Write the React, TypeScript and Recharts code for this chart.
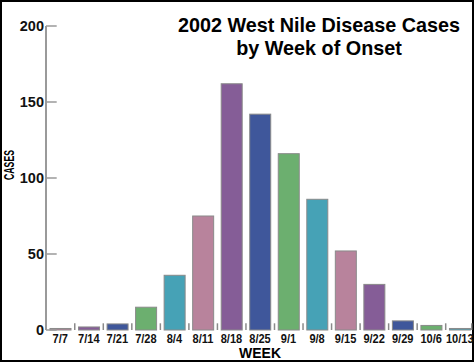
import React from 'react';
import { BarChart, Bar, XAxis, YAxis, Cell, Label } from 'recharts';

const weeks = ['7/7', '7/14', '7/21', '7/28', '8/4', '8/11', '8/18', '8/25', '9/1', '9/8', '9/15', '9/22', '9/29', '10/6', '10/13'];
const cases = [1, 2, 4, 15, 36, 75, 162, 142, 116, 86, 52, 30, 6, 3, 1];
const yTicks = [0, 50, 100, 150, 200];
const titleLines = ['2002 West Nile Disease Cases', 'by Week of Onset'];

const palette = ['#b8839c', '#855d97', '#3f579b', '#6caf6f', '#46a2b6'];
const FONT = '"Liberation Sans", Arial, Helvetica, sans-serif';
const CHART_W = 474;
const CHART_H = 362;
const Y_AXIS_W = 46;
const BAND = (CHART_W - Y_AXIS_W) / weeks.length;
const TICK_LEN = 6.7;

const data = weeks.map((w, i) => ({ week: w, cases: cases[i] }));

const YTick = (props: any) => {
  const { x, y, payload } = props;
  return (
    <g>
      <line x1={x + 2} x2={x + 12.7} y1={y} y2={y} stroke="#9a9a9a" strokeWidth={1.5} />
      <text x={x} y={y} dy="0.36em" textAnchor="end" fontFamily={FONT} fontWeight="bold" fontSize={14.5} fill="#111">
        {payload.value}
      </text>
    </g>
  );
};

const XTick = (props: any) => {
  const { x, y, payload } = props;
  return (
    <g transform={`translate(${x},${y}) scale(0.85,1)`}>
      <text x={0} y={0} dy="0.72em" textAnchor="middle" fontFamily={FONT} fontWeight="bold" fontSize={13} fill="#111">
        {payload.value}
      </text>
    </g>
  );
};

const BarWithTicks = (props: any) => {
  const { x, y, width, height, fill, payload } = props;
  const bx = Number(x);
  const by = Number(y);
  const bw = Number(width);
  const bh = Number(height);
  const idx = payload ? weeks.indexOf(String(payload.week)) : -1;
  const bottom = by + bh;
  const pad = (BAND - bw) / 2;
  const left = bx - pad;
  const right = bx + bw + pad - 2.5;
  return (
    <g>
      <rect x={bx} y={by} width={bw} height={bh} fill={fill} stroke="#8a8a8a" strokeWidth={1} />
      {idx > 0 ? <line x1={left} x2={left} y1={bottom} y2={bottom - TICK_LEN} stroke="#8a8a8a" strokeWidth={1.5} /> : null}
      {idx === weeks.length - 1 ? <line x1={right} x2={right} y1={bottom} y2={bottom - TICK_LEN} stroke="#8a8a8a" strokeWidth={1.5} /> : null}
    </g>
  );
};

const XLabel = (props: any) => {
  const { viewBox } = props;
  return (
    <text x={viewBox.x + viewBox.width / 2} y={viewBox.y + 28} textAnchor="middle" fontFamily={FONT} fontWeight="bold" fontSize={14} fill="#000">
      WEEK
    </text>
  );
};

const YLabel = (props: any) => {
  const { viewBox } = props;
  const cx = 14;
  const cy = viewBox.y + viewBox.height / 2 - 13;
  return (
    <text x={cx} y={cy} transform={`rotate(-90, ${cx}, ${cy})`} textAnchor="middle" fontFamily={FONT} fontWeight="bold" fontSize={14} fill="#000" textLength={30} lengthAdjust="spacingAndGlyphs">
      CASES
    </text>
  );
};

export default function App() {
  return (
    <div style={{ position: 'absolute', left: 0, top: 0, width: CHART_W, height: CHART_H, boxSizing: 'border-box', border: '2px solid #000', background: '#fff' }}>
      <div style={{ position: 'absolute', left: -2, top: -2, width: CHART_W, height: CHART_H }}>
        <BarChart width={CHART_W} height={CHART_H} data={data} margin={{ top: 26, right: 0, bottom: 0, left: 0 }} barCategoryGap="14%">
          <XAxis dataKey="week" axisLine={false} tickLine={false} tickSize={0} tickMargin={4} height={32} interval={0} tick={<XTick />}>
            <Label content={<XLabel />} />
          </XAxis>
          <YAxis domain={[0, 200]} ticks={yTicks} width={Y_AXIS_W} axisLine={{ stroke: '#9a9a9a', strokeWidth: 2 }} tickLine={false} tickSize={0} tickMargin={2} tick={<YTick />} interval={0}>
            <Label content={<YLabel />} />
          </YAxis>
          <Bar dataKey="cases" isAnimationActive={false} shape={<BarWithTicks />}>
            {data.map((d, i) => (
              <Cell key={d.week} fill={palette[i % palette.length]} />
            ))}
          </Bar>
        </BarChart>
      </div>
      <div style={{ position: 'absolute', left: 119 - 2, top: 13.5 - 2, width: 400, textAlign: 'center', fontFamily: FONT, fontWeight: 'bold', fontSize: 19.8, lineHeight: '23px', color: '#000' }}>
        {titleLines.map((t) => (
          <div key={t}>{t}</div>
        ))}
      </div>
    </div>
  );
}
